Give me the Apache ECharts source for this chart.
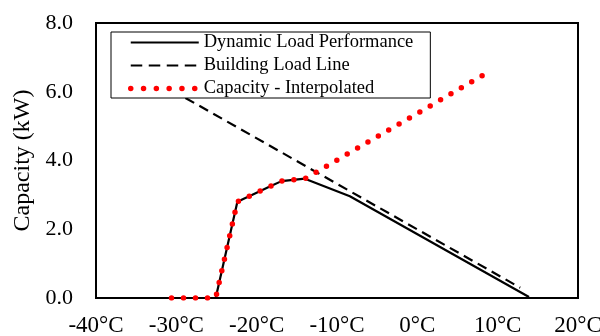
<!DOCTYPE html>
<html>
<head>
<meta charset="utf-8">
<script src="https://cdn.jsdelivr.net/npm/echarts@6/dist/echarts.min.js"></script>
<style>
html,body{margin:0;padding:0;background:#fff;}
#c{width:600px;height:336px;}
</style>
</head>
<body>
<div id="c"></div>
<script>
// Data
var perfTemps  = [-30.6, -25.1, -22.4, -20.4, -18.3, -16.9, -14.0, -8.4, 13.9];
var perfValues = [0, 0, 2.80, 3.02, 3.25, 3.40, 3.47, 2.96, 0.03];

var loadTemps  = [-30.6, 12.8];
var loadValues = [6.05, 0.30];

var capTemps  = [-30.6, -25.1, -22.4, -20.4, -18.3, -16.9, -14.0, 8.9];
var capValues = [0, 0, 2.80, 3.02, 3.25, 3.40, 3.47, 6.58];

var seriesNames = ['Dynamic Load Performance', 'Building Load Line', 'Capacity - Interpolated'];
var xTicks = {min: -40, max: 20, interval: 10};
var yTicks = {min: 0, max: 8, interval: 2};

function pairs(xs, ys){ return xs.map(function(x,i){ return [x, ys[i]]; }); }

var FONT = '"Liberation Serif", "Times New Roman", serif';
var chart = echarts.init(document.getElementById('c'), null, {renderer:'canvas'});
chart.setOption({
  animation: false,
  backgroundColor: '#fff',
  textStyle: {fontFamily: FONT},
  grid: {left: 96, right: 22, top: 23, bottom: 38, containLabel: false, outerBoundsMode: 'none',
         show: true, borderColor: '#000', borderWidth: 2, backgroundColor: 'transparent'},
  legend: {
    orient: 'vertical',
    left: 111, top: 32,
    padding: [1, 17, 0, 17],
    itemGap: 4,
    itemWidth: 68, itemHeight: 18,
    backgroundColor: '#fff',
    borderColor: '#000', borderWidth: 1,
    itemStyle: {opacity: 0},
    textStyle: {fontFamily: FONT, fontSize: 18.5, color: '#000'},
    data: [
      {name: seriesNames[0], lineStyle: {width: 2.2}},
      {name: seriesNames[1], lineStyle: {width: 2.2, type: [11.5, 6.5]}},
      {name: seriesNames[2], lineStyle: {width: 5.5, type: [0, 12.8], cap: 'round'}}
    ]
  },
  xAxis: {
    type: 'value', min: xTicks.min, max: xTicks.max, interval: xTicks.interval,
    axisLine: {show: true, onZero: false, lineStyle: {color: '#000', width: 2}},
    axisTick: {show: false},
    splitLine: {show: false},
    axisLabel: {color: '#000', fontSize: 23, fontFamily: FONT, margin: 16, formatter: '{value}°C'}
  },
  yAxis: {
    type: 'value', min: yTicks.min, max: yTicks.max, interval: yTicks.interval,
    name: 'Capacity (kW)', nameLocation: 'middle', nameGap: 60,
    nameTextStyle: {color: '#000', fontSize: 24, fontFamily: FONT},
    axisLine: {show: true, onZero: false, lineStyle: {color: '#000', width: 2}},
    axisTick: {show: false},
    splitLine: {show: false},
    axisLabel: {color: '#000', fontSize: 22, fontFamily: FONT, margin: 23, formatter: function(v){ return v.toFixed(1); }}
  },
  series: [
    {name: seriesNames[0], type: 'line', data: pairs(perfTemps, perfValues), showSymbol: false, symbol: 'none',
     lineStyle: {color: '#000', width: 2.2}, itemStyle: {color: '#000'}, z: 2},
    {name: seriesNames[1], type: 'line', data: pairs(loadTemps, loadValues), showSymbol: false, symbol: 'none',
     lineStyle: {color: '#000', width: 2.2, type: [10, 6]}, itemStyle: {color: '#000'}, z: 2},
    {name: seriesNames[2], type: 'line', data: pairs(capTemps, capValues), showSymbol: false, symbol: 'none',
     lineStyle: {color: '#ff0000', width: 5.5, type: [0, 12], cap: 'round', join: 'round'}, itemStyle: {color: '#ff0000'}, z: 3}
  ]
});
</script>
</body>
</html>
